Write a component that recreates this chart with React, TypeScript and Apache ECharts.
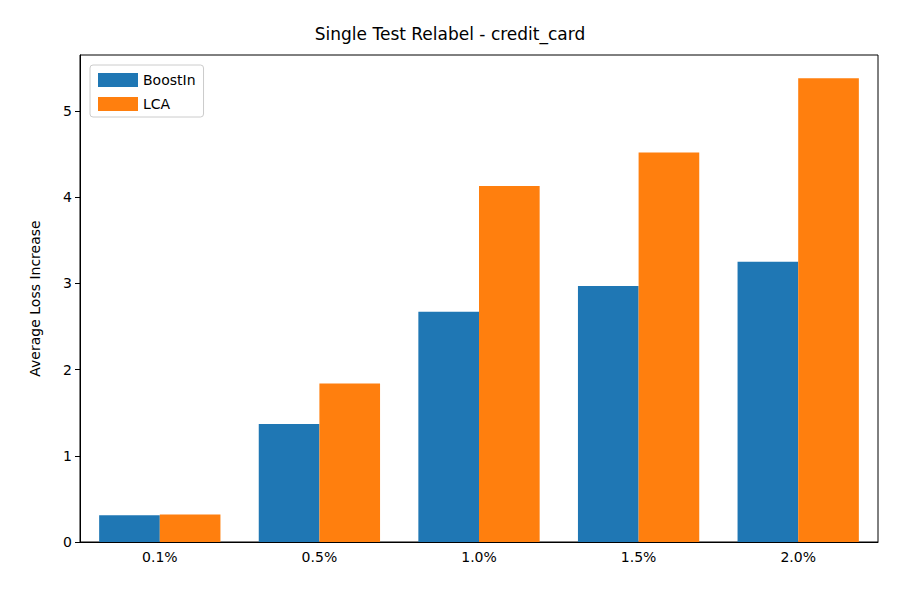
import { useEffect, useRef } from "react";
import * as echarts from "echarts";

const categories = ["0.1%", "0.5%", "1.0%", "1.5%", "2.0%"];
const boostIn = [0.31, 1.37, 2.67, 2.97, 3.25];
const lca = [0.32, 1.84, 4.13, 4.52, 5.38];

export default function App() {
  const ref = useRef<HTMLDivElement>(null);

  useEffect(() => {
    if (!ref.current) return;
    const chart = echarts.init(ref.current, undefined, { renderer: "svg" });
    const font = "DejaVu Sans";
    chart.setOption({
      animation: false,
      textStyle: { fontFamily: font, color: "#000" },
      title: {
        text: "Single Test Relabel - credit_card",
        left: "center",
        top: 20,
        textStyle: { fontFamily: font, fontSize: 17, fontWeight: "normal", color: "#000" },
      },
      legend: {
        orient: "vertical",
        left: 90,
        top: 65,
        padding: [8, 8, 6, 8],
        itemGap: 10,
        itemWidth: 40,
        itemHeight: 14,
        borderColor: "#ccc",
        borderWidth: 1,
        borderRadius: 3,
        icon: "rect",
        textStyle: { fontFamily: font, fontSize: 14, color: "#000" },
        data: ["BoostIn", "LCA"],
      },
      grid: {
        left: 80,
        right: 22,
        top: 55,
        bottom: 58,
        show: true,
        borderColor: "#000",
        borderWidth: 1,
      },
      xAxis: {
        type: "category",
        data: categories,
        axisLine: { lineStyle: { color: "#000" } },
        axisTick: { alignWithLabel: true, length: 5, lineStyle: { color: "#000" } },
        axisLabel: { fontFamily: font, fontSize: 14, color: "#000", margin: 8 },
      },
      yAxis: {
        type: "value",
        min: 0,
        max: 5.65,
        interval: 1,
        name: "Average Loss Increase",
        nameLocation: "middle",
        nameGap: 38,
        nameTextStyle: { fontFamily: font, fontSize: 14, color: "#000" },
        splitLine: { show: false },
        axisLine: { show: true, lineStyle: { color: "#000" } },
        axisTick: { show: true, length: 5, lineStyle: { color: "#000" } },
        axisLabel: { fontFamily: font, fontSize: 14, color: "#000", showMaxLabel: false },
      },
      series: [
        {
          name: "BoostIn",
          type: "bar",
          data: boostIn,
          itemStyle: { color: "#1f77b4" },
          barGap: "0%",
          barCategoryGap: "24%",
        },
        {
          name: "LCA",
          type: "bar",
          data: lca,
          itemStyle: { color: "#ff7f0e" },
        },
      ],
    });
    return () => chart.dispose();
  }, []);

  return <div ref={ref} style={{ width: 900, height: 600, margin: -8 }} />;
}
